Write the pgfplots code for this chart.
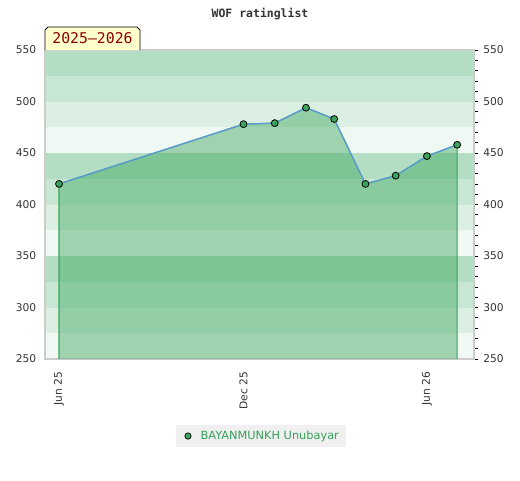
\documentclass[border=0pt]{standalone}
\usepackage{pgfplots}
\pgfplotsset{compat=1.18}
\usepackage{fontspec}
\setmainfont{DejaVu Sans}
\newfontfamily\monofont{DejaVu Sans Mono}
\definecolor{bandA}{RGB}{179,222,195}
\definecolor{bandB}{RGB}{200,230,212}
\definecolor{bandC}{RGB}{220,239,227}
\definecolor{bandD}{RGB}{240,248,243}
\definecolor{areaG}{RGB}{62,168,96}
\definecolor{lineB}{RGB}{91,155,213}
\definecolor{markG}{RGB}{58,164,92}
\definecolor{legG}{RGB}{52,160,90}
\definecolor{txt}{RGB}{51,51,51}
\definecolor{tagbg}{RGB}{255,255,204}
\definecolor{tagfg}{RGB}{139,0,0}
\def\px{0.75pt}
\begin{document}
\begin{tikzpicture}[x=\px,y=\px]
\path[use as bounding box] (-45,-121) rectangle (475,359);
\begin{axis}[
  at={(0,0)}, anchor=south west,
  scale only axis,
  width=429*\px, height=309*\px,
  xmin=-13.9, xmax=411.7,
  ymin=250, ymax=550,
  axis line style={draw=black!20, line width=0.8pt},
  axis y line*=right,
  axis x line*=bottom,
  ytick={250,300,...,550},
  minor ytick={260,270,...,540},
  yticklabel style={font=\fontsize{8}{10}\selectfont, text=txt},
  ytick style={draw=black, line width=0.6pt},
  major tick length=4*\px,
  minor tick length=4*\px,
  y tick label style={xshift=0.5pt},
  xtick={0,183,365},
  xticklabels={Jun 25, Dec 25, Jun 26},
  xticklabel style={rotate=90, anchor=east, font=\fontsize{8}{10}\selectfont, text=txt, xshift=-4*\px},
  xtick style={draw=none},
  tick align=outside,
  clip=false,
  /pgf/number format/assume math mode=true,
]
% background bands
\fill[bandA] (axis cs:-13.9,525) rectangle (axis cs:411.7,550);
\fill[bandB] (axis cs:-13.9,500) rectangle (axis cs:411.7,525);
\fill[bandC] (axis cs:-13.9,475) rectangle (axis cs:411.7,500);
\fill[bandD] (axis cs:-13.9,450) rectangle (axis cs:411.7,475);
\fill[bandA] (axis cs:-13.9,425) rectangle (axis cs:411.7,450);
\fill[bandB] (axis cs:-13.9,400) rectangle (axis cs:411.7,425);
\fill[bandC] (axis cs:-13.9,375) rectangle (axis cs:411.7,400);
\fill[bandD] (axis cs:-13.9,350) rectangle (axis cs:411.7,375);
\fill[bandA] (axis cs:-13.9,325) rectangle (axis cs:411.7,350);
\fill[bandB] (axis cs:-13.9,300) rectangle (axis cs:411.7,325);
\fill[bandC] (axis cs:-13.9,275) rectangle (axis cs:411.7,300);
\fill[bandD] (axis cs:-13.9,250) rectangle (axis cs:411.7,275);
\draw[black!20, line width=0.8pt] (axis cs:-13.9,250) rectangle (axis cs:411.7,550);
% area
\addplot[draw=markG, line width=0.8pt, fill=areaG, fill opacity=0.45, forget plot]
coordinates {(0,250) (0,420) (183,478) (214,479) (245,494) (273,483) (304,420) (334,428) (365,447) (395,458) (395,250)};
% line with markers
\addplot[lineB, line width=1pt, mark=*, mark size=2.6pt,
  mark options={fill=markG, draw=black, line width=0.6pt}]
coordinates {(0,420) (183,478) (214,479) (245,494) (273,483) (304,420) (334,428) (365,447) (395,458)};
\end{axis}
% left labels
\foreach \v in {250,300,...,550} {
  \node[anchor=east, font=\fontsize{8}{10}\selectfont, text=txt] at (-4,{(\v-250)*1.03}) {\v};
}
% title
\node[font=\monofont\bfseries\fontsize{8.6}{10}\selectfont, text=black!80] at (215,345) {WOF ratinglist};
% tag
\draw[fill=tagbg, draw=black, line width=0.6pt] (0,309) -- (0,329) -- (3,332) -- (92,332) -- (95,329) -- (95,309);
\node[font=\monofont\fontsize{11.1}{13}\selectfont, text=tagfg] at (47.5,320.5) {2025–2026};
% legend
\fill[black!6] (131,-88) rectangle (301,-66);
\fill[markG, draw=black, line width=0.5pt] (143,-77) circle (3.2);
\node[anchor=west, font=\fontsize{8.5}{10}\selectfont, text=legG] at (151,-77) {BAYANMUNKH Unubayar};
\end{tikzpicture}
\end{document}
